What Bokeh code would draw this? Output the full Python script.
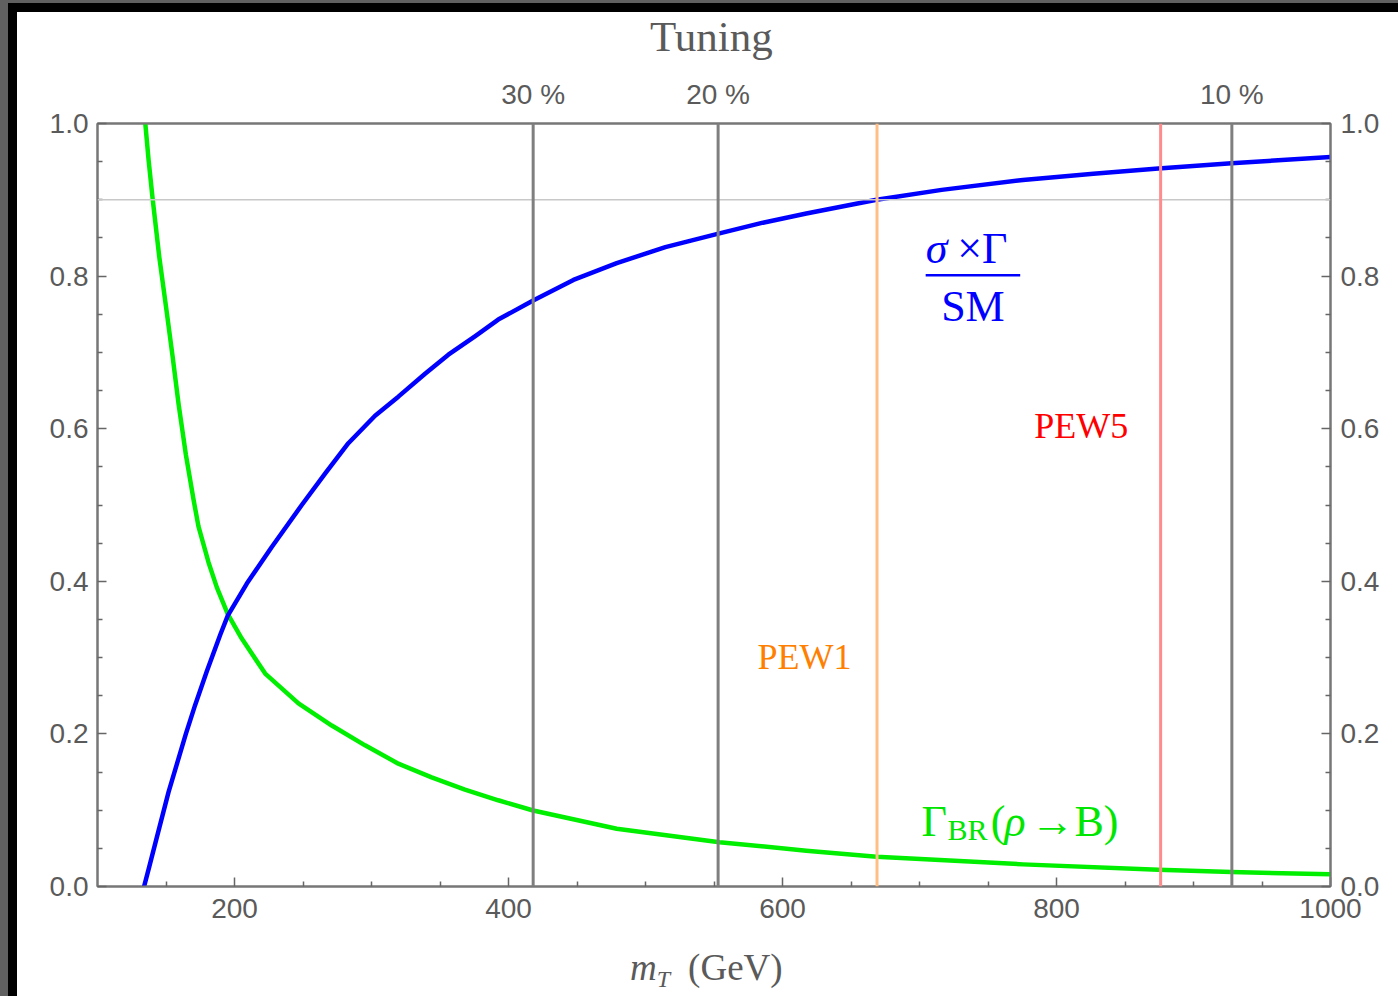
from bokeh.plotting import figure
from bokeh.models import LinearAxis, FixedTicker, Span, Label, Range1d, Div
from bokeh.layouts import column
from bokeh.embed import file_html
from bokeh.resources import INLINE

# ---------------- data ----------------
mt_blue = [134, 137.8, 144.1, 151.9, 164.5, 171.3, 179.8, 189.6, 195.1, 209, 227.2,
           249.1, 266.1, 283.1, 302.6, 319.6, 339.1, 356.1, 375.5, 392.5, 418,
           447.4, 479, 514.5, 554, 585.7, 617.4, 668.7, 716.2, 775.5, 826.9,
           874.3, 927.7, 1000]
ratio_blue = [0.0, 0.026, 0.070, 0.124, 0.200, 0.238, 0.282, 0.330, 0.355, 0.397,
              0.445, 0.500, 0.541, 0.581, 0.617, 0.642, 0.672, 0.697, 0.721, 0.743,
              0.768, 0.795, 0.817, 0.838, 0.856, 0.870, 0.882, 0.900, 0.913, 0.926,
              0.934, 0.941, 0.948, 0.956]
mt_green = [134.9, 137.3, 140.2, 145.1, 150.6, 154.8, 159.2, 164.5, 170.1, 173.7,
            181, 187.1, 195.1, 205.3, 222.4, 246.7, 271, 295.3, 319.6, 343.9,
            368.2, 392.5, 418, 479, 554, 617.4, 668.7, 775.5, 874.3, 927.7, 1000]
br_green = [1.0, 0.952, 0.902, 0.825, 0.752, 0.695, 0.632, 0.566, 0.507, 0.472,
            0.425, 0.392, 0.357, 0.325, 0.279, 0.240, 0.211, 0.185, 0.161, 0.143,
            0.127, 0.113, 0.0996, 0.0756, 0.058, 0.047, 0.039, 0.029, 0.022, 0.019,
            0.016]

tuning_mt = [418, 553, 928]
tuning_labels = ["30 %", "20 %", "10 %"]
pew_mt = [669, 876]
pew_names = ["PEW1", "PEW5"]
pew_line_colors = ["#ffbe84", "#ff8c8c"]
pew_text_colors = ["#ff8000", "#ff0000"]
pew_text_y = [0.301, 0.603]
pew_text_x = [616, 818]
ref_level = 0.9

x_ticks = [200, 400, 600, 800, 1000]
x_tick_labels = ["200", "400", "600", "800", "1000"]
y_ticks = [0.0, 0.2, 0.4, 0.6, 0.8, 1.0]
y_tick_labels = ["0.0", "0.2", "0.4", "0.6", "0.8", "1.0"]
x_minor = [150, 250, 300, 350, 450, 500, 550, 650, 700, 750, 850, 900, 950]
y_minor = [0.05, 0.1, 0.15, 0.25, 0.3, 0.35, 0.45, 0.5, 0.55, 0.65, 0.7, 0.75,
           0.85, 0.9, 0.95]

# ---------------- styles ----------------
TICK_FONT = "Liberation Sans"
SERIF = "Liberation Serif"
GRAY_TXT = "#5a5a5a"
AX_COL = "#777777"

p = figure(width=1381, height=869, x_range=Range1d(100, 1000), y_range=Range1d(0, 1),
           output_backend="svg", toolbar_location=None,
           min_border_left=80, min_border_right=68, min_border_top=56,
           min_border_bottom=50, background_fill_color="white",
           border_fill_color="white")
p.grid.visible = False
p.outline_line_color = AX_COL
p.outline_line_width = 2

def style_axis(ax, standoff):
    ax.axis_line_color = AX_COL
    ax.axis_line_width = 2
    ax.major_tick_line_color = "#666666"
    ax.minor_tick_line_color = "#666666"
    ax.major_tick_line_width = 1.5
    ax.minor_tick_line_width = 1.5
    ax.major_tick_in = 9
    ax.major_tick_out = 0
    ax.minor_tick_in = 5
    ax.minor_tick_out = 0
    ax.major_label_text_font = TICK_FONT
    ax.major_label_text_font_size = "28px"
    ax.major_label_text_color = GRAY_TXT
    ax.major_label_standoff = standoff

xt = FixedTicker(ticks=x_ticks, minor_ticks=x_minor)
yt = FixedTicker(ticks=y_ticks, minor_ticks=y_minor)

p.xaxis.ticker = xt
p.xaxis.major_label_overrides = dict(zip(x_ticks, x_tick_labels))
style_axis(p.xaxis[0], 12)

p.yaxis.ticker = yt
p.yaxis.major_label_overrides = dict(zip(y_ticks, y_tick_labels))
style_axis(p.yaxis[0], 9)

ry = LinearAxis(ticker=yt, major_label_overrides=dict(zip(y_ticks, y_tick_labels)))
style_axis(ry, 10)
p.add_layout(ry, "right")

tx = LinearAxis(ticker=FixedTicker(ticks=tuning_mt, minor_ticks=[]),
                major_label_overrides=dict(zip(tuning_mt, tuning_labels)))
style_axis(tx, 14)
tx.major_tick_in = 0
p.add_layout(tx, "above")

# reference level and vertical markers
p.add_layout(Span(location=ref_level, dimension="width", line_color="#c8c8c8",
                  line_width=1.5))
for m in tuning_mt:
    p.add_layout(Span(location=m, dimension="height", line_color="#7f7f7f",
                      line_width=3))
for m, c in zip(pew_mt, pew_line_colors):
    p.add_layout(Span(location=m, dimension="height", line_color=c, line_width=3))

# curves
p.line(mt_green, br_green, line_color="#00ee00", line_width=4.5,
       line_join="round")
p.line(mt_blue, ratio_blue, line_color="#0000ff", line_width=4.5,
       line_join="round")

# PEW labels
for x, y, t, c in zip(pew_text_x, pew_text_y, pew_names, pew_text_colors):
    p.add_layout(Label(x=x, y=y, text=t, text_color=c, text_font=SERIF,
                       text_font_size="36px", text_align="center",
                       text_baseline="middle"))

# sigma x Gamma / SM label
BLUE_TXT = "#0000ff"
p.add_layout(Label(x=704.5, y=0.836, text="\u03c3", text_color=BLUE_TXT,
                   text_font=SERIF, text_font_style="italic", text_font_size="44px",
                   text_baseline="alphabetic"))
p.add_layout(Label(x=727.5, y=0.836, text="\u00d7\u0393", text_color=BLUE_TXT,
                   text_font=SERIF, text_font_size="44px",
                   text_baseline="alphabetic"))
p.segment(x0=[704.5], y0=[0.801], x1=[773.5], y1=[0.801], line_color=BLUE_TXT,
          line_width=2.5)
p.add_layout(Label(x=739, y=0.760, text="SM", text_color=BLUE_TXT,
                   text_font=SERIF, text_font_size="44px", text_align="center",
                   text_baseline="middle"))

# Gamma_BR(rho -> B) label
GREEN_TXT = "#00e600"
GY = 0.0856
p.add_layout(Label(x=701.5, y=GY, text="\u0393", text_color=GREEN_TXT,
                   text_font=SERIF, text_font_size="44px",
                   text_baseline="alphabetic"))
p.add_layout(Label(x=720.5, y=GY - 0.011, text="BR", text_color=GREEN_TXT,
                   text_font=SERIF, text_font_size="30px",
                   text_baseline="alphabetic"))
p.add_layout(Label(x=752, y=GY, text="(", text_color=GREEN_TXT,
                   text_font=SERIF, text_font_size="44px",
                   text_baseline="alphabetic"))
p.add_layout(Label(x=762, y=GY, text="\u03c1", text_color=GREEN_TXT,
                   text_font=SERIF, text_font_style="italic", text_font_size="44px",
                   text_baseline="alphabetic"))
p.add_layout(Label(x=781, y=GY, text="\u2192B)", text_color=GREEN_TXT,
                   text_font=SERIF, text_font_size="44px",
                   text_baseline="alphabetic"))

# top title "Tuning" (HTML block above the plot)
title_div = Div(
    text=('<span style="font-family:\'Liberation Serif\';font-size:43px;'
          'line-height:43px;color:#5a5a5a;white-space:nowrap">Tuning</span>'),
    width=1381, height=55, margin=(0, 0, 0, 0),
    styles={"text-align": "left", "background-color": "white",
            "padding-left": "633px", "padding-top": "3px",
            "box-sizing": "border-box", "line-height": "43px"})

# x axis title as HTML (needs italic subscript)
xlabel = Div(
    text=('<span style="font-family:\'Liberation Serif\';font-size:37px;'
          'color:#5a5a5a;white-space:nowrap"><i>m</i>'
          '<sub style="font-size:24px;vertical-align:-7px"><i>T</i></sub>'
          '<span style="margin-left:18px">(GeV)</span></span>'),
    width=1381, height=60, margin=(0, 0, 0, 0),
    styles={"text-align": "left", "background-color": "white",
            "padding-top": "6px", "padding-left": "613px",
            "box-sizing": "border-box"})

inner = column(title_div, p, xlabel, spacing=0,
               styles={"background-color": "white",
                       "border-left": "9px solid #000000",
                       "border-top": "9px solid #000000"})

page = column(inner, spacing=0,
              styles={"background-color": "#606060",
                      "padding-left": "8px", "padding-top": "3px"})

open("out.html", "w").write(file_html(page, INLINE))
